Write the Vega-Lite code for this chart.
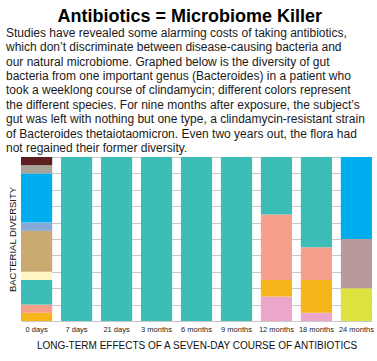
{
  "$schema": "https://vega.github.io/schema/vega-lite/v6.json",
  "padding": {"left": 6, "top": 7, "right": 0, "bottom": 0},
  "background": "white",
  "title": {
    "text": "Antibiotics = Microbiome Killer",
    "font": "Liberation Sans",
    "fontSize": 18,
    "fontWeight": "bold",
    "color": "#000000",
    "anchor": "middle",
    "offset": 1
  },
  "vconcat": [
    {
      "title": {
        "text": [
          "Studies have revealed some alarming costs of taking antibiotics,",
          "which don’t discriminate between disease-causing bacteria and",
          "our natural microbiome. Graphed below is the diversity of gut",
          "bacteria from one important genus (Bacteroides) in a patient who",
          "took a weeklong course of clindamycin; different colors represent",
          "the different species. For nine months after exposure, the subject’s",
          "gut was left with nothing but one type, a clindamycin-resistant strain",
          "of Bacteroides thetaiotaomicron. Even two years out, the flora had",
          "not regained their former diversity."
        ],
        "font": "Liberation Sans",
        "fontSize": 12,
        "fontWeight": "normal",
        "color": "#1a1a1a",
        "anchor": "start",
        "frame": "bounds",
        "lineHeight": 14.4,
        "dx": -1,
        "offset": 2
      },
      "width": 351,
      "height": 164,
      "data": {
        "values": [
          {"time": "0 days", "species": "orange", "order": 1, "value": 5},
          {"time": "0 days", "species": "salmon", "order": 2, "value": 5},
          {"time": "0 days", "species": "teal", "order": 3, "value": 15},
          {"time": "0 days", "species": "cream", "order": 4, "value": 5},
          {"time": "0 days", "species": "tan", "order": 5, "value": 25},
          {"time": "0 days", "species": "lightblue", "order": 6, "value": 5},
          {"time": "0 days", "species": "blue", "order": 7, "value": 30},
          {"time": "0 days", "species": "gray", "order": 8, "value": 5},
          {"time": "0 days", "species": "brown", "order": 9, "value": 5},
          {"time": "7 days", "species": "teal", "order": 1, "value": 100},
          {"time": "21 days", "species": "teal", "order": 1, "value": 100},
          {"time": "3 months", "species": "teal", "order": 1, "value": 100},
          {"time": "6 months", "species": "teal", "order": 1, "value": 100},
          {"time": "9 months", "species": "teal", "order": 1, "value": 100},
          {"time": "12 months", "species": "pink", "order": 1, "value": 15},
          {"time": "12 months", "species": "orange", "order": 2, "value": 10},
          {"time": "12 months", "species": "salmon", "order": 3, "value": 40},
          {"time": "12 months", "species": "teal", "order": 4, "value": 35},
          {"time": "18 months", "species": "pink", "order": 1, "value": 5},
          {"time": "18 months", "species": "orange", "order": 2, "value": 20},
          {"time": "18 months", "species": "salmon", "order": 3, "value": 20},
          {"time": "18 months", "species": "teal", "order": 4, "value": 55},
          {"time": "24 months", "species": "yellowgreen", "order": 1, "value": 20},
          {"time": "24 months", "species": "mauve", "order": 2, "value": 30},
          {"time": "24 months", "species": "blue", "order": 3, "value": 50}
        ]
      },
      "mark": {"type": "bar"},
      "encoding": {
        "x": {
          "field": "time",
          "type": "nominal",
          "sort": ["0 days", "7 days", "21 days", "3 months", "6 months", "9 months", "12 months", "18 months", "24 months"],
          "scale": {"paddingInner": 0.22, "paddingOuter": 0},
          "axis": {
            "title": "LONG-TERM EFFECTS OF A SEVEN-DAY COURSE OF ANTIBIOTICS",
            "titleFont": "Liberation Sans",
            "titleFontSize": 10,
            "titleFontWeight": "normal",
            "titleColor": "#111111",
            "titlePadding": 8,
            "labelAngle": 0,
            "labelFont": "Liberation Sans",
            "labelFontSize": 7.5,
            "labelColor": "#1a1a1a",
            "labelPadding": 4,
            "ticks": false,
            "domain": false
          }
        },
        "y": {
          "field": "value",
          "type": "quantitative",
          "stack": "zero",
          "scale": {"domain": [0, 100], "nice": false},
          "axis": {
            "title": "BACTERIAL DIVERSITY",
            "titleFont": "Liberation Sans",
            "titleFontSize": 9.5,
            "titleFontWeight": "normal",
            "titleColor": "#111111",
            "titlePadding": 4,
            "labels": false,
            "ticks": false,
            "domain": false,
            "values": [0, 10, 20, 30, 40, 50, 60, 70, 80, 90, 100],
            "grid": true,
            "gridColor": "#c8c8c8",
            "gridWidth": 1
          }
        },
        "color": {
          "field": "species",
          "type": "nominal",
          "legend": null,
          "scale": {
            "domain": ["orange", "salmon", "teal", "cream", "tan", "lightblue", "blue", "gray", "brown", "pink", "yellowgreen", "mauve"],
            "range": ["#f6b51a", "#f4a08c", "#3dbdb8", "#fff5c0", "#c9ab72", "#86a9d9", "#00aeef", "#a8a49a", "#5c1f1f", "#eba6cc", "#dde23e", "#b89a9c"]
          }
        },
        "order": {"field": "order", "type": "quantitative"}
      }
    }
  ],
  "config": {"view": {"stroke": null}}
}
